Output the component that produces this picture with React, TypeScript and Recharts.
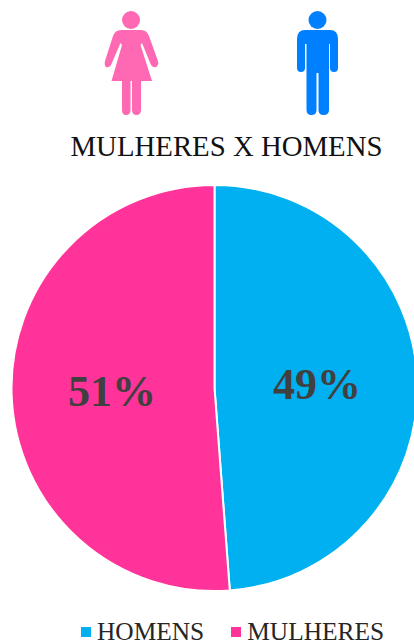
import { PieChart, Pie, Cell, Legend } from "recharts";

const categories = ["HOMENS", "MULHERES"];
const shares = [48.8, 51.2];
const colors = ["#00B0F0", "#FF3399"];

const chartData = categories.map((name, i) => ({ name, value: shares[i] }));

const FONT = "'Liberation Serif', 'Times New Roman', serif";
const RAD = Math.PI / 180;

function renderPercent({ cx, cy, midAngle, outerRadius, value }: any) {
  const r = outerRadius * 0.505;
  const x = cx + r * Math.cos(-midAngle * RAD);
  const y = cy + r * Math.sin(-midAngle * RAD);
  return (
    <text x={x} y={y} textAnchor="middle" dominantBaseline="central" fill="#404040" fontFamily={FONT} fontWeight="bold" fontSize={44}>
      {Math.round(value)}%
    </text>
  );
}

function renderLegend() {
  return (
    <div style={{ position: "absolute", left: 81, top: 620, display: "flex", alignItems: "center", fontFamily: FONT, fontSize: 25.4, lineHeight: "23px", color: "#262626", whiteSpace: "nowrap" }}>
      {categories.map((name, i) => (
        <span key={name} style={{ display: "flex", alignItems: "center", marginRight: 27 }}>
          <span style={{ width: 10, height: 10, background: colors[i], marginRight: 6 }} />
          {name}
        </span>
      ))}
    </div>
  );
}

function WomanIcon() {
  return (
    <svg width={60} height={120} viewBox="100 0 60 120" style={{ position: "absolute", left: 100, top: 0 }}>
      <g fill="#FF69B4">
        <circle cx={131} cy={20} r={9} />
        <path d="M121 30 H141 Q147 30 149 36 L158 61 Q159 65 156 67 Q153 68 151 65 L142 43 L140.5 45 L152 81 H141 V110 Q141 115 136.5 115 Q132 115 132 110 V81 H130.5 V110 Q130.5 115 126 115 Q122 115 122 110 V81 H111.5 L122 45 L120.5 43 L111 65 Q109 68 106 67 Q104 65 105 61 L113 36 Q115 30 121 30 Z" />
      </g>
    </svg>
  );
}

function ManIcon() {
  return (
    <svg width={60} height={120} viewBox="290 0 60 120" style={{ position: "absolute", left: 290, top: 0 }}>
      <g fill="#007FFF">
        <circle cx={317.5} cy={20} r={9} />
        <path d="M305 30 H330 Q338 30 338 39 V68 Q338 72 334 72 Q330 72 330 68 V44 H329 V110 Q329 115 323.5 115 Q318.5 115 318.5 110 V73 H316.5 V110 Q316.5 115 311.5 115 Q306.5 115 306.5 110 V44 H305 V68 Q305 72 301 72 Q297 72 297 68 V39 Q297 30 305 30 Z" />
      </g>
    </svg>
  );
}

export default function App() {
  return (
    <div style={{ position: "absolute", left: 0, top: 0, width: 414, height: 643, background: "#fff", overflow: "hidden" }}>
      <WomanIcon />
      <ManIcon />
      <div style={{ position: "absolute", left: 0, width: 453, top: 130, textAlign: "center", fontFamily: FONT, fontSize: 28.8, lineHeight: "32px", color: "#111", whiteSpace: "nowrap" }}>
        MULHERES X HOMENS
      </div>
      <PieChart width={414} height={643} margin={{ top: 0, right: 0, bottom: 0, left: 0 }} style={{ position: "absolute", left: 0, top: 0 }}>
        <Pie
          data={chartData}
          dataKey="value"
          nameKey="name"
          cx={214.5}
          cy={388}
          outerRadius={203}
          startAngle={90}
          endAngle={-270}
          stroke="#fff"
          strokeWidth={2}
          label={renderPercent}
          labelLine={false}
          isAnimationActive={false}
        >
          {chartData.map((d, i) => (
            <Cell key={d.name} fill={colors[i]} />
          ))}
        </Pie>
        <Legend content={renderLegend} wrapperStyle={{ position: "absolute", left: 0, top: 0, width: 414, height: 643, pointerEvents: "none" }} />
      </PieChart>
    </div>
  );
}
